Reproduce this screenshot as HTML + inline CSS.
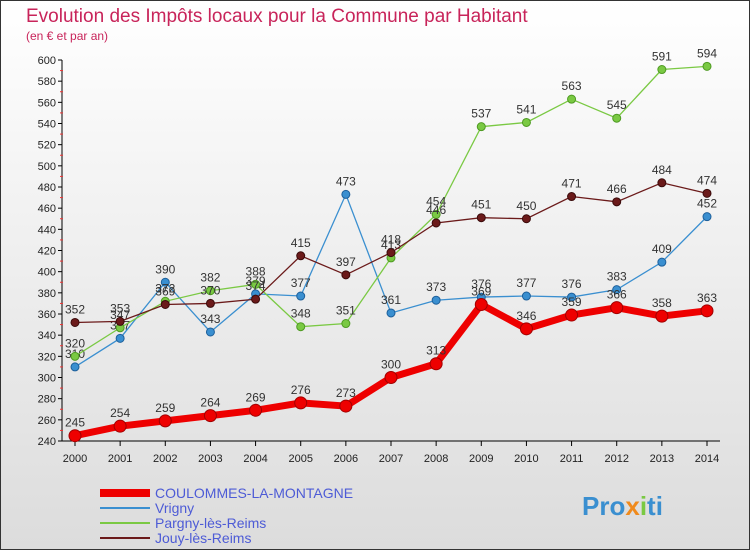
<!DOCTYPE html>
<html><head><meta charset="utf-8"><style>
body{margin:0;width:750px;height:550px;overflow:hidden;font-family:"Liberation Sans",sans-serif}
svg{display:block}
</style></head><body>
<svg width="750" height="550">
<defs><linearGradient id="bg" x1="0" y1="0" x2="0" y2="1"><stop offset="0" stop-color="#ffffff"/><stop offset="1" stop-color="#dcdcdc"/></linearGradient></defs>
<rect x="0.5" y="0.5" width="749" height="549" fill="url(#bg)" stroke="#333"/>
<text x="26" y="22" font-size="19" fill="#c8245a">Evolution des Impôts locaux pour la Commune par Habitant</text>
<text x="26" y="40" font-size="12" fill="#c8245a">(en € et par an)</text>
<g id="axes"></g><g id="series"></g><g id="legend"></g>
<text x="582" y="515" font-size="26" font-weight="bold" fill="#3a8fd0">Pro<tspan fill="#f08a1c">x</tspan><tspan fill="#7ac943">i</tspan>ti</text>
</svg>
<script>
const years=[2000,2001,2002,2003,2004,2005,2006,2007,2008,2009,2010,2011,2012,2013,2014];
const coulommes=[245,254,259,264,269,276,273,300,313,369,346,359,366,358,363];
const vrigny=[310,337,390,343,379,377,473,361,373,376,377,376,383,409,452];
const pargny=[320,347,372,382,388,348,351,413,454,537,541,563,545,591,594];
const jouy=[352,353,369,370,374,415,397,418,446,451,450,471,466,484,474];
const yTicks=[240,260,280,300,320,340,360,380,400,420,440,460,480,500,520,540,560,580,600];
const NS="http://www.w3.org/2000/svg";
const X=i=>75+i*(632/14);
const Y=v=>441-(v-240)*(381/360);
function mk(t,a,p){const e=document.createElementNS(NS,t);for(const k in a)e.setAttribute(k,a[k]);p.appendChild(e);return e;}
const ax=document.getElementById('axes');
const yl=mk('line',{x1:62,y1:Y(600),x2:62,y2:441,stroke:'#000'},ax);


const xl=mk('line',{x1:62,y1:441,x2:720,y2:441,stroke:'#000'},ax);


yTicks.forEach(v=>{
 mk('line',{x1:58,y1:Y(v),x2:62,y2:Y(v),stroke:'#000'},ax);
 if(v<600)mk('line',{x1:60,y1:Y(v+10),x2:63,y2:Y(v+10),stroke:'#e33'},ax);
 const t=mk('text',{x:56,y:Y(v)+4,'font-size':11,'text-anchor':'end',fill:'#222'},ax);t.textContent=v;
 
 
});
years.forEach((y,i)=>{
 mk('line',{x1:X(i),y1:441,x2:X(i),y2:446,stroke:'#000'},ax);
 const t=mk('text',{x:X(i),y:462,'font-size':11,'text-anchor':'middle',fill:'#222'},ax);t.textContent=y;
 
 
});
const sg=document.getElementById('series');
function draw(vals,color,dark,w,r,name){
 const g=mk('g',{},sg);
 
 
 const l=mk('polyline',{points:vals.map((v,i)=>X(i)+','+Y(v)).join(' '),fill:'none',stroke:color,'stroke-width':w},g);
 
 
 vals.forEach((v,i)=>{
  const c=mk('circle',{cx:X(i),cy:Y(v),r:r,fill:color,stroke:dark,'stroke-width':1},g);
  
  
  const t=mk('text',{x:X(i),y:Y(v)-9,'font-size':12,'text-anchor':'middle',fill:'#333'},g);t.textContent=v;
  
  
 });
}
draw(vrigny,'#3a8fd0','#1d5f9a',1.3,4,'vrigny');
draw(pargny,'#7ac943','#4e9a22',1.3,4,'pargny');
draw(jouy,'#6b1a1a','#3a0a0a',1.3,4,'jouy');
draw(coulommes,'#ee0000','#a00000',7,6,'coulommes');
const lg=document.getElementById('legend');
const items=[['COULOMMES-LA-MONTAGNE','#ee0000',8],['Vrigny','#3a8fd0',2],['Pargny-lès-Reims','#7ac943',2],['Jouy-lès-Reims','#6b1a1a',2]];
items.forEach((it,i)=>{
 const y=493+i*15;
 const l=mk('line',{x1:100,y1:y,x2:150,y2:y,stroke:it[1],'stroke-width':it[2]},lg);
 
 
 const t=mk('text',{x:155,y:y+5,'font-size':14,fill:'#4d5bd6'},lg);t.textContent=it[0];
 
 
});
</script>
</body></html>
